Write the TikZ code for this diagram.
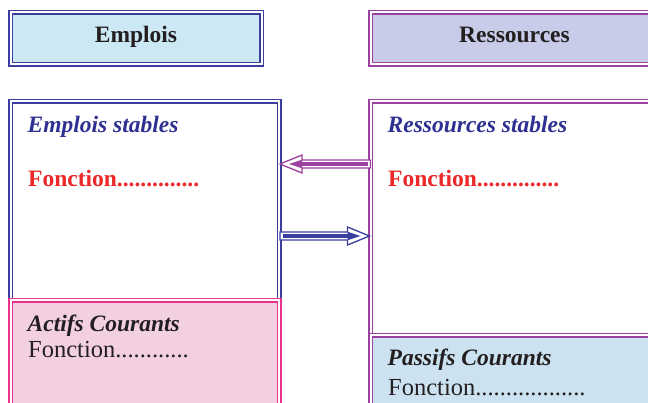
\documentclass[tikz,border=0pt]{standalone}
\usepackage{fontspec}
\setmainfont{Liberation Serif}
\usetikzlibrary{calc}
\definecolor{bblue}{RGB}{58,62,158}
\definecolor{ppurple}{RGB}{155,65,160}
\definecolor{ppink}{RGB}{232,50,140}
\definecolor{hdrblue}{RGB}{204,232,244}
\definecolor{hdrlav}{RGB}{200,204,232}
\definecolor{pinkfill}{RGB}{242,208,226}
\definecolor{passfill}{RGB}{204,226,240}
\definecolor{tblue}{RGB}{46,49,146}
\definecolor{tred}{RGB}{236,40,40}
\definecolor{tblack}{RGB}{35,31,32}
\tikzset{
  dbox/.style={draw=#1, line width=1.5pt, double=white, double distance=2pt,
    rectangle, inner sep=0pt, outer sep=0pt, anchor=north west},
  hdrtext/.style={font=\fontsize{23.5}{28}\selectfont\bfseries, text=tblack,
    inner sep=0pt},
  lbl/.style={anchor=base west, inner sep=0pt},
  bi/.style={font=\fontsize{23.5}{28}\selectfont\bfseries\itshape},
  rg/.style={font=\fontsize{24.5}{28}\selectfont, text=tblack},
  bd/.style={font=\fontsize{23.5}{28}\selectfont\bfseries, text=tred},
}
\newcommand\stripearrow[3]{%
  \coordinate (hb) at ($(#3)!23pt!(#2)$);
  \coordinate (ts) at ($(#2)!2.5pt!(#3)$);
  \coordinate (it) at ($(#3)!10pt!(#2)$);
  \coordinate (tp) at ($(#3)!1pt!(#2)$);
  \draw[#1, line width=1.3pt, fill=white, line join=miter]
    ($(#2)+(0,-4)$) -- ($(hb)+(0,-4)$) -- ($(hb)+(0,-9)$) -- (tp)
    -- ($(hb)+(0,9)$) -- ($(hb)+(0,4)$) -- ($(#2)+(0,4)$) -- cycle;
  \draw[#1, line width=3.8pt] (ts) -- (hb);
  \fill[#1] ($(hb)+(0,-4.3)$) -- (it) -- ($(hb)+(0,4.3)$) -- cycle;
}
\begin{document}
\begin{tikzpicture}[x=1pt, y=-1pt]
\useasboundingbox (0,0) rectangle (648,403);
\clip (0,0) rectangle (648,403);
\fill[white] (0,0) rectangle (648,403);
% headers
\node[dbox=bblue, fill=hdrblue, minimum width=251pt, minimum height=52pt]
  (hE) at (10.5,12.5) {};
\node[dbox=ppurple, fill=hdrlav, minimum width=340pt, minimum height=52pt]
  (hR) at (370.5,12.5) {};
\node[hdrtext, anchor=base] (tE) at (136,43) {Emplois};
\node[hdrtext, anchor=base] (tR) at (514.5,43) {Ressources};
% big boxes
\node[dbox=bblue, fill=white, minimum width=268.5pt, minimum height=220pt] (es) at (10.5,101.5) {};
\node[dbox=ppink, fill=pinkfill, minimum width=268.5pt, minimum height=150pt] (ac) at (10.5,300.5) {};
\node[dbox=ppurple, fill=white, minimum width=340pt, minimum height=300pt] (rs) at (370.5,101.5) {};
\node[dbox=ppurple, fill=passfill, minimum width=340pt, minimum height=150pt] (pc) at (370.5,335.5) {};
% texts
\node[lbl, bi, text=tblue] (t1) at (27.5,133) {Emplois stables};
\node[lbl, bd] (t2) at (28,187) {Fonction..............};
\node[lbl, bi, text=tblack] (t3) at (27.5,332) {Actifs Courants};
\node[lbl, rg] (t4) at (28,358) {Fonction............};
\node[lbl, bi, text=tblue] (t5) at (387.5,133) {Ressources stables};
\node[lbl, bd] (t6) at (388,187) {Fonction..............};
\node[lbl, bi, text=tblack] (t7) at (387.5,366) {Passifs Courants};
\node[lbl, rg] (t8) at (388,395.5) {Fonction..................};
% arrows
\coordinate (a1tail) at ($(rs.north west)+(0,62.5)$);
\coordinate (a1tip)  at ($(es.north east)+(0,62.5)$);
\coordinate (a2tail) at ($(es.north east)+(1,134.5)$);
\coordinate (a2tip)  at ($(rs.north west)+(0,134.5)$);
\stripearrow{ppurple}{a1tail}{a1tip}
\stripearrow{bblue}{a2tail}{a2tip}
\end{tikzpicture}
\end{document}
